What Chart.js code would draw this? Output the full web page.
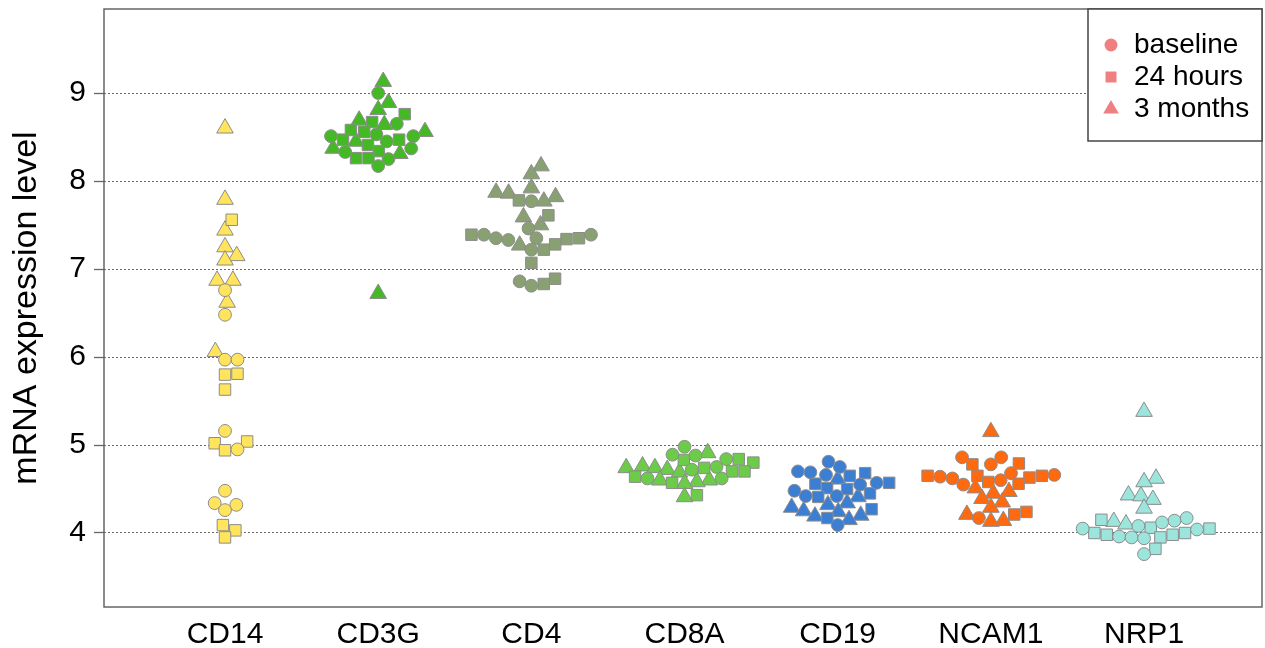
<!DOCTYPE html>
<html>
<head>
<meta charset="utf-8">
<script src="https://cdn.jsdelivr.net/npm/chart.js"></script>
<style>
  body { margin: 0; background: #fff; }
  canvas { display: block; }
</style>
</head>
<body>
<canvas id="swarm" width="1265" height="648"></canvas>
<script>
// genes on the x axis, one list of values per gene in each time-point array
const CATEGORIES = ['CD14', 'CD3G', 'CD4', 'CD8A', 'CD19', 'NCAM1', 'NRP1'];
const GROUPS = ['baseline', '24 hours', '3 months'];
const Y_TICKS = [4, 5, 6, 7, 8, 9];

const BASELINE = [
  [6.76, 6.48, 5.97, 5.97, 5.16, 4.95, 4.48, 4.34, 4.32, 4.26],
  [9.00, 8.65, 8.53, 8.51, 8.51, 8.45, 8.37, 8.33, 8.25, 8.17],
  [7.77, 7.46, 7.39, 7.39, 7.35, 7.35, 7.33, 7.22, 6.86, 6.81],
  [4.98, 4.89, 4.88, 4.84, 4.75, 4.72, 4.62, 4.62],
  [4.81, 4.75, 4.70, 4.69, 4.66, 4.57, 4.55, 4.48, 4.42, 4.42, 4.09],
  [4.86, 4.86, 4.78, 4.68, 4.66, 4.64, 4.62, 4.60, 4.55, 4.17],
  [4.17, 4.14, 4.12, 4.08, 4.05, 4.04, 3.96, 3.95, 3.94, 3.76]
];
const HOURS_24 = [
  [7.56, 5.81, 5.80, 5.63, 5.04, 5.02, 4.94, 4.09, 4.03, 3.95],
  [8.76, 8.67, 8.58, 8.56, 8.47, 8.47, 8.41, 8.34, 8.26, 8.26],
  [7.78, 7.61, 7.39, 7.35, 7.34, 7.28, 7.22, 7.07, 6.89, 6.83],
  [4.84, 4.83, 4.80, 4.74, 4.70, 4.70, 4.64, 4.57, 4.43],
  [4.68, 4.65, 4.57, 4.56, 4.51, 4.50, 4.45, 4.41, 4.27, 4.17],
  [4.79, 4.78, 4.65, 4.65, 4.65, 4.63, 4.58, 4.56, 4.24, 4.21],
  [4.15, 4.06, 4.05, 4.00, 4.00, 3.98, 3.98, 3.95, 3.82]
];
const MONTHS_3 = [
  [8.60, 7.79, 7.44, 7.25, 7.15, 7.10, 6.87, 6.87, 6.62, 6.06],
  [9.13, 8.89, 8.81, 8.69, 8.64, 8.56, 8.45, 8.37, 8.31, 6.72],
  [8.17, 8.08, 7.92, 7.87, 7.86, 7.82, 7.77, 7.59, 7.50, 7.27],
  [4.91, 4.76, 4.74, 4.74, 4.72, 4.69, 4.60, 4.60, 4.58, 4.56, 4.41],
  [4.61, 4.41, 4.34, 4.32, 4.29, 4.25, 4.24, 4.20, 4.19, 4.15],
  [5.15, 4.51, 4.47, 4.45, 4.39, 4.35, 4.29, 4.21, 4.14, 4.13],
  [5.38, 4.62, 4.58, 4.43, 4.42, 4.38, 4.28, 4.13, 4.10]
];

const GENE_COLORS = ['#FFE45C', '#45B925', '#89A172', '#6CCB48', '#3C7ED2', '#FF690F', '#9BE5DC'];
const SHAPES = ['circle', 'rect', 'triangle'];
const RADII = [6.4, 8.1, 9.6];
const FONT = 'Liberation Sans, Arial, sans-serif';
const SWARM_PX = 12.5;   // minimum distance between point centres, like beeswarm spacing

const series = [BASELINE, HOURS_24, MONTHS_3];

const datasets = GROUPS.map((g, gi) => {
  const data = [];
  series[gi].forEach((vals, ci) => vals.forEach(v => data.push({ x: ci + 1, y: v, gene: ci })));
  return {
    label: g,
    data: data,
    pointStyle: SHAPES[gi],
    pointRadius: RADII[gi],
    pointHoverRadius: RADII[gi],
    pointBackgroundColor: data.map(p => GENE_COLORS[p.gene]),
    pointBorderColor: '#8c8c8c',
    pointBorderWidth: 1,
    showLine: false
  };
});

// beeswarm "swarm" placement: points go in ascending order, each at the
// smallest sideways offset that does not collide with points already placed
function placeSwarm(chart) {
  const xs = chart.scales.x, ys = chart.scales.y;
  CATEGORIES.forEach((c, ci) => {
    const pts = [];
    chart.data.datasets.forEach(ds => ds.data.forEach(p => { if (p.gene === ci) pts.push(p); }));
    pts.sort((a, b) => a.y - b.y);
    const centre = xs.getPixelForValue(ci + 1);
    const placed = [];
    pts.forEach(p => {
      const py = -ys.getPixelForValue(p.y) / SWARM_PX;
      const near = placed.filter(q => Math.abs(q.py - py) < 1);
      const cands = [0];
      near.forEach(q => cands.push(q.px + Math.sqrt(1 - (q.py - py) ** 2)));
      near.forEach(q => cands.push(q.px - Math.sqrt(1 - (q.py - py) ** 2)));
      let best = null;
      cands.forEach(cx => {
        if (near.some(q => (cx - q.px) ** 2 + (q.py - py) ** 2 < 0.999)) return;
        if (best === null || Math.abs(cx) < Math.abs(best)) best = cx;
      });
      placed.push({ px: best, py: py });
      p.x = xs.getValueForPixel(centre + best * SWARM_PX);
    });
  });
  chart.update('none');
}

const framePlugin = {
  id: 'frame',
  afterDatasetsDraw(chart) {
    const { ctx, chartArea: a } = chart;
    ctx.save();
    ctx.strokeStyle = '#666';
    ctx.lineWidth = 1.5;
    ctx.strokeRect(a.left, a.top, a.right - a.left, a.bottom - a.top);
    ctx.restore();
  }
};

const legendPlugin = {
  id: 'boxLegend',
  afterDraw(chart) {
    const { ctx, chartArea: a } = chart;
    const w = 174, h = 132;
    const left = a.right - w, top = a.top;
    ctx.save();
    ctx.fillStyle = '#fff';
    ctx.fillRect(left, top, w, h);
    ctx.strokeStyle = '#444';
    ctx.lineWidth = 1.5;
    ctx.strokeRect(left, top, w, h);
    ctx.fillStyle = '#F08080';
    GROUPS.forEach((g, i) => {
      const y = top + 36 + i * 32;
      const x = left + 23;
      ctx.beginPath();
      if (i === 0) {
        ctx.arc(x, y, 6.5, 0, Math.PI * 2);
      } else if (i === 1) {
        ctx.rect(x - 5.5, y - 5.5, 11, 11);
      } else {
        ctx.moveTo(x, y - 9);
        ctx.lineTo(x + 7.8, y + 4.5);
        ctx.lineTo(x - 7.8, y + 4.5);
        ctx.closePath();
      }
      ctx.fill();
    });
    ctx.fillStyle = '#000';
    ctx.font = '28px ' + FONT;
    ctx.textBaseline = 'middle';
    ctx.textAlign = 'left';
    GROUPS.forEach((g, i) => ctx.fillText(g, left + 46, top + 36 + i * 32));
    ctx.restore();
  }
};

const chart = new Chart(document.getElementById('swarm'), {
  type: 'scatter',
  data: { datasets: datasets },
  options: {
    responsive: false,
    animation: false,
    events: [],
    layout: { autoPadding: false, padding: { top: 9, right: 3, left: 0, bottom: 0 } },
    plugins: { legend: { display: false }, tooltip: { enabled: false } },
    scales: {
      x: {
        type: 'linear',
        min: 0.21,
        max: 7.77,
        afterBuildTicks: s => { s.ticks = CATEGORIES.map((c, i) => ({ value: i + 1 })); },
        afterFit: s => { s.height = 41; s.paddingLeft = 0; s.paddingRight = 0; },
        grid: { display: false, drawTicks: false },
        border: { display: false },
        ticks: {
          callback: v => CATEGORIES[Math.round(v) - 1],
          font: { family: FONT, size: 30 },
          color: '#000',
          padding: 10,
          maxRotation: 0,
          autoSkip: false
        }
      },
      y: {
        min: 3.159,
        max: 9.955,
        afterBuildTicks: s => { s.ticks = Y_TICKS.map(v => ({ value: v })); },
        afterFit: s => { s.width = 104; s.paddingTop = 0; s.paddingBottom = 0; },
        grid: {
          color: '#6a6a6a',
          lineWidth: 1,
          drawTicks: true,
          tickLength: 10,
          tickColor: '#666',
          tickWidth: 1.3,
          tickBorderDash: []
        },
        border: { display: false, dash: [2, 2] },
        ticks: {
          font: { family: FONT, size: 30 },
          color: '#000',
          padding: 8
        },
        title: {
          display: true,
          text: 'mRNA expression level',
          font: { family: FONT, size: 34 },
          color: '#000',
          padding: { top: 6, bottom: 0 }
        }
      }
    }
  },
  plugins: [framePlugin, legendPlugin]
});

placeSwarm(chart);
</script>
</body>
</html>
